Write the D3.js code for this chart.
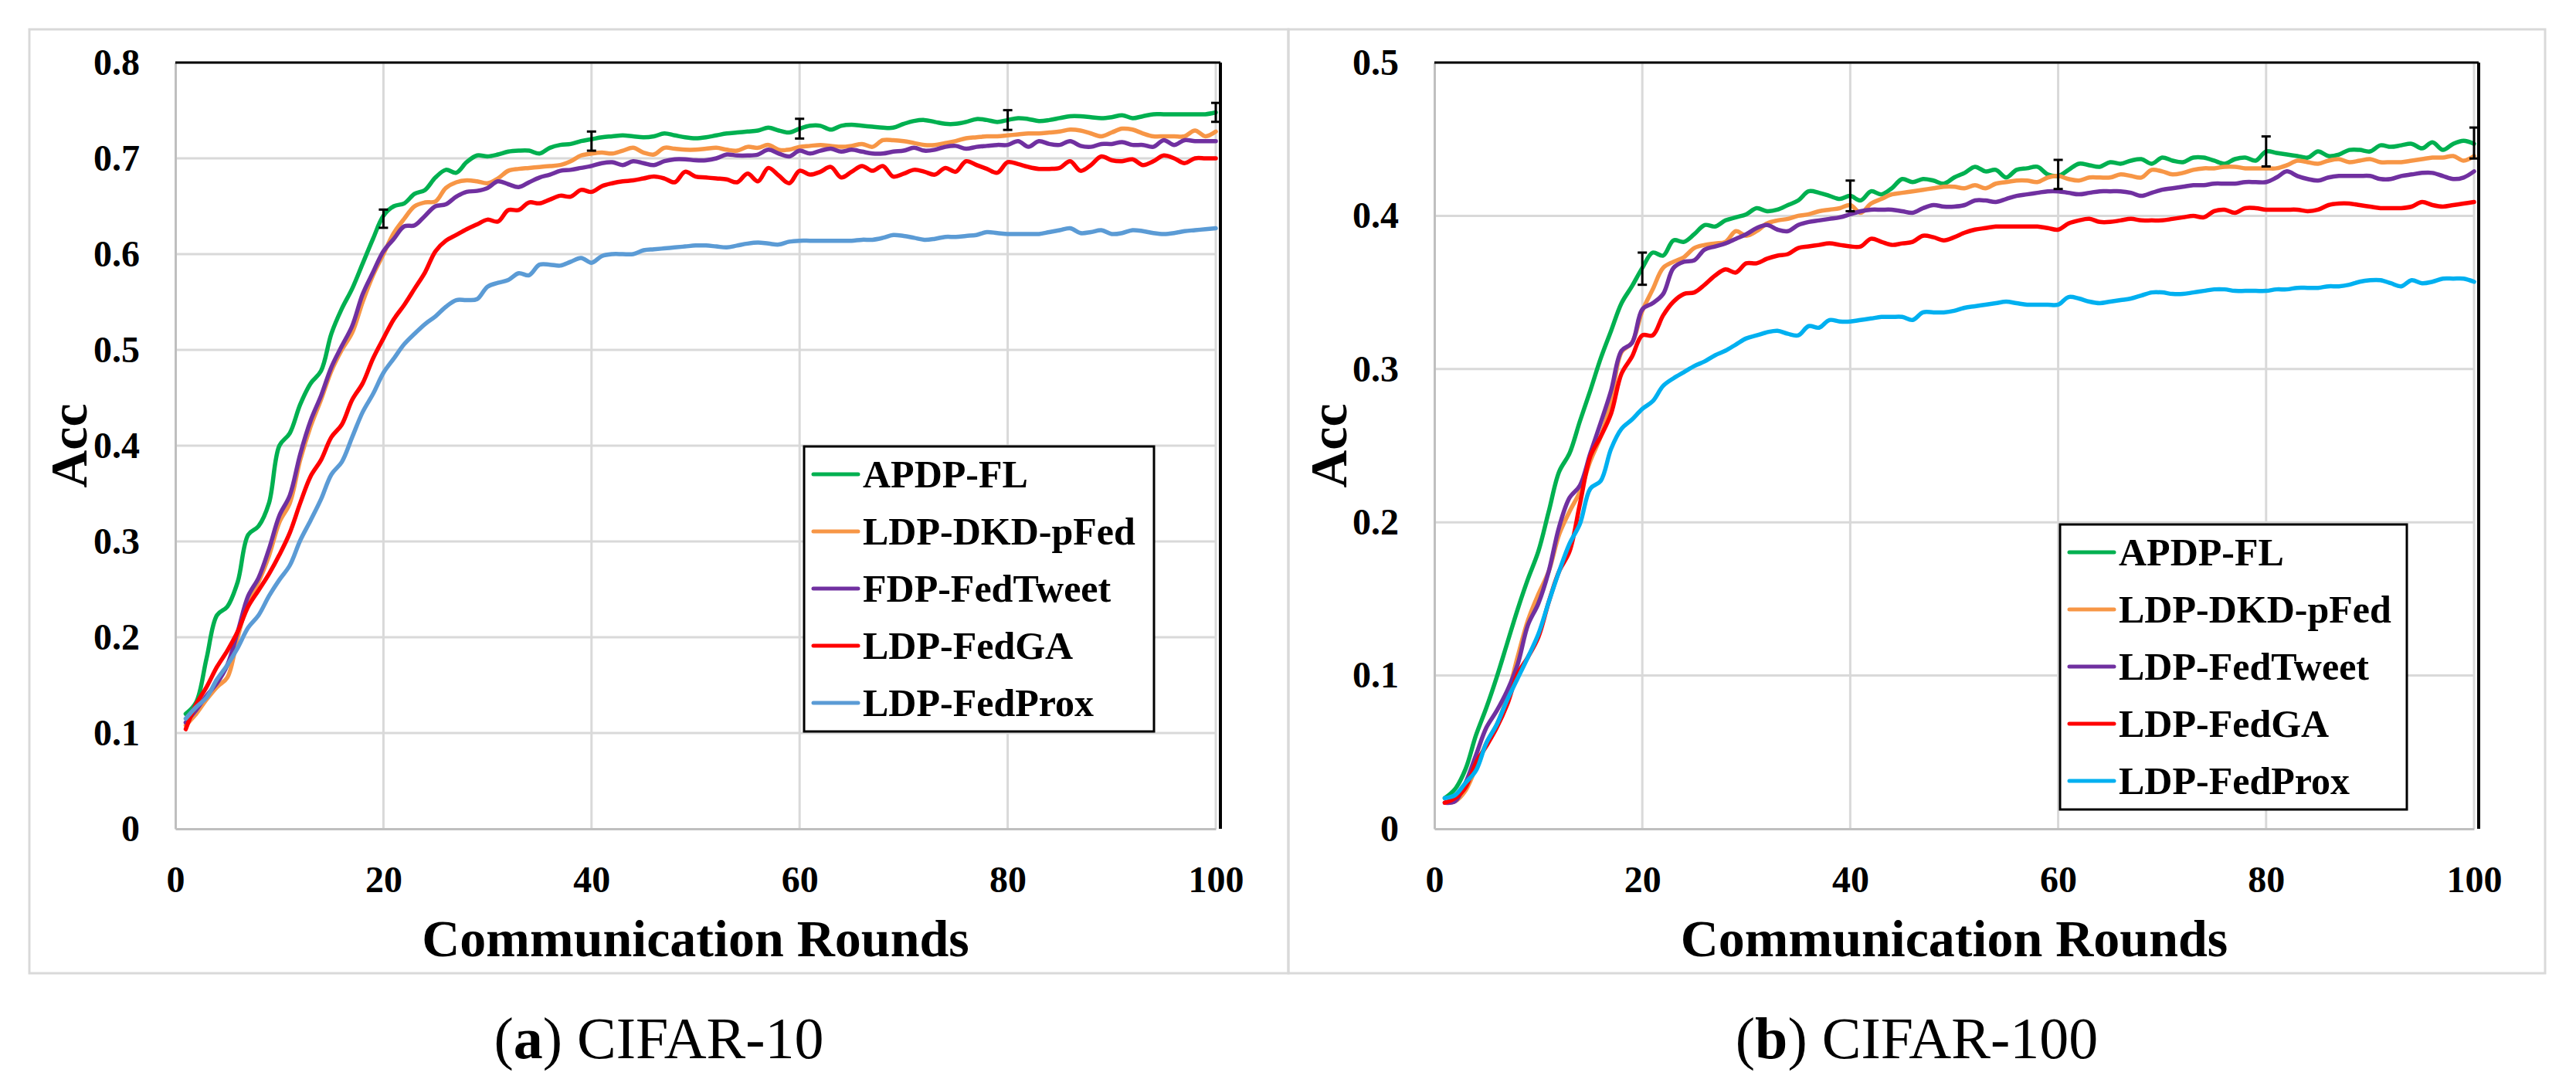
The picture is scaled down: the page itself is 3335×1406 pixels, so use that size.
<!DOCTYPE html>
<html>
<head>
<meta charset="utf-8">
<script src="https://cdn.jsdelivr.net/npm/d3@7"></script>
<style>
  body { margin: 0; background: #fff; }
</style>
</head>
<body>
<div id="chart"></div>
<script>
// communication rounds (x categories)
const rounds = d3.range(1, 101);
const xTicks = [0, 20, 40, 60, 80, 100];
const yTicks10 = [0, 0.1, 0.2, 0.3, 0.4, 0.5, 0.6, 0.7, 0.8];
const yTicks100 = [0, 0.1, 0.2, 0.3, 0.4, 0.5];

const names10 = ["APDP-FL", "LDP-DKD-pFed", "FDP-FedTweet", "LDP-FedGA", "LDP-FedProx"];
const names100 = ["APDP-FL", "LDP-DKD-pFed", "LDP-FedTweet", "LDP-FedGA", "LDP-FedProx"];
const colors10 = ["#00B050", "#F79646", "#7030A0", "#FF0000", "#5B9BD5"];
const colors100 = ["#00B050", "#F79646", "#7030A0", "#FF0000", "#00B0F0"];

// CIFAR-10 accuracy per round
const c10Apdp = [0.120,0.132,0.178,0.223,0.232,0.258,0.307,0.316,0.340,0.400,
  0.413,0.443,0.465,0.478,0.517,0.543,0.564,0.590,0.616,0.640,
  0.650,0.653,0.663,0.667,0.680,0.688,0.685,0.696,0.703,0.702,
  0.704,0.707,0.708,0.708,0.705,0.711,0.714,0.715,0.718,0.720,
  0.722,0.723,0.724,0.723,0.722,0.723,0.726,0.724,0.722,0.721,
  0.722,0.724,0.726,0.727,0.728,0.729,0.732,0.729,0.727,0.731,
  0.734,0.734,0.730,0.734,0.735,0.734,0.733,0.732,0.732,0.736,
  0.739,0.740,0.738,0.736,0.736,0.738,0.741,0.740,0.738,0.740,
  0.742,0.741,0.739,0.740,0.742,0.744,0.744,0.743,0.742,0.743,
  0.745,0.742,0.744,0.746,0.746,0.746,0.746,0.746,0.746,0.748];
const c10Dkd = [0.108,0.120,0.135,0.148,0.158,0.200,0.238,0.258,0.285,0.320,
  0.340,0.385,0.420,0.448,0.478,0.500,0.518,0.550,0.578,0.600,
  0.622,0.637,0.650,0.654,0.655,0.669,0.675,0.677,0.676,0.674,
  0.679,0.687,0.689,0.690,0.691,0.692,0.693,0.697,0.703,0.705,
  0.706,0.705,0.708,0.711,0.706,0.704,0.711,0.710,0.709,0.709,
  0.710,0.711,0.709,0.708,0.712,0.711,0.714,0.709,0.709,0.712,
  0.713,0.714,0.713,0.712,0.713,0.715,0.712,0.719,0.719,0.718,
  0.716,0.714,0.714,0.716,0.718,0.721,0.722,0.723,0.723,0.724,
  0.725,0.726,0.726,0.727,0.728,0.730,0.729,0.726,0.723,0.727,
  0.731,0.730,0.726,0.723,0.723,0.723,0.723,0.729,0.723,0.728];
const c10Tweet = [0.111,0.124,0.139,0.152,0.171,0.206,0.243,0.262,0.292,0.327,
  0.348,0.391,0.426,0.452,0.482,0.504,0.525,0.558,0.581,0.603,
  0.616,0.629,0.630,0.640,0.650,0.652,0.660,0.665,0.666,0.669,
  0.676,0.673,0.670,0.675,0.680,0.683,0.687,0.688,0.690,0.692,
  0.695,0.696,0.693,0.697,0.695,0.693,0.697,0.699,0.699,0.698,
  0.698,0.700,0.704,0.703,0.703,0.704,0.709,0.705,0.702,0.708,
  0.705,0.708,0.710,0.707,0.709,0.707,0.705,0.705,0.707,0.708,
  0.711,0.708,0.709,0.712,0.713,0.710,0.712,0.713,0.714,0.714,
  0.718,0.712,0.718,0.715,0.714,0.718,0.713,0.712,0.715,0.715,
  0.717,0.714,0.714,0.712,0.719,0.714,0.719,0.718,0.718,0.718];
const c10Ga = [0.104,0.130,0.148,0.169,0.186,0.206,0.232,0.249,0.266,0.286,
  0.309,0.340,0.368,0.385,0.409,0.422,0.448,0.465,0.491,0.512,
  0.532,0.547,0.564,0.581,0.603,0.614,0.620,0.626,0.631,0.636,
  0.634,0.646,0.646,0.654,0.653,0.657,0.661,0.660,0.667,0.665,
  0.671,0.674,0.676,0.677,0.679,0.681,0.679,0.675,0.686,0.681,
  0.680,0.679,0.678,0.675,0.684,0.676,0.690,0.682,0.674,0.687,
  0.683,0.686,0.691,0.680,0.686,0.692,0.687,0.692,0.681,0.684,
  0.688,0.686,0.683,0.690,0.686,0.697,0.693,0.689,0.685,0.696,
  0.694,0.691,0.689,0.689,0.690,0.697,0.687,0.693,0.702,0.698,
  0.697,0.699,0.693,0.697,0.703,0.700,0.695,0.700,0.700,0.700];
const c10Prox = [0.115,0.127,0.137,0.156,0.171,0.189,0.210,0.223,0.243,0.260,
  0.275,0.301,0.322,0.344,0.370,0.383,0.409,0.435,0.454,0.476,
  0.491,0.506,0.517,0.527,0.535,0.545,0.552,0.552,0.553,0.566,
  0.570,0.573,0.580,0.578,0.589,0.589,0.588,0.592,0.596,0.591,
  0.598,0.600,0.600,0.600,0.604,0.605,0.606,0.607,0.608,0.609,
  0.609,0.608,0.607,0.609,0.611,0.612,0.611,0.610,0.613,0.614,
  0.614,0.614,0.614,0.614,0.614,0.615,0.615,0.617,0.620,0.619,
  0.617,0.615,0.616,0.618,0.618,0.619,0.620,0.623,0.622,0.621,
  0.621,0.621,0.621,0.623,0.625,0.627,0.622,0.623,0.625,0.621,
  0.622,0.625,0.624,0.622,0.621,0.622,0.624,0.625,0.626,0.627];

// CIFAR-100 accuracy per round
const c100Apdp = [0.020,0.026,0.039,0.061,0.079,0.099,0.121,0.143,0.163,0.181,
  0.207,0.233,0.245,0.266,0.286,0.307,0.325,0.343,0.354,0.366,
  0.376,0.374,0.384,0.383,0.388,0.394,0.393,0.397,0.399,0.401,
  0.405,0.403,0.404,0.407,0.410,0.416,0.415,0.413,0.411,0.413,
  0.410,0.416,0.414,0.418,0.424,0.422,0.424,0.423,0.421,0.425,
  0.428,0.432,0.429,0.430,0.425,0.430,0.431,0.432,0.427,0.426,
  0.430,0.434,0.433,0.432,0.435,0.434,0.436,0.437,0.434,0.438,
  0.436,0.435,0.438,0.438,0.436,0.434,0.437,0.438,0.436,0.442,
  0.441,0.440,0.439,0.438,0.442,0.439,0.440,0.443,0.443,0.442,
  0.446,0.445,0.446,0.447,0.444,0.448,0.443,0.447,0.449,0.447];
const c100Dkd = [0.017,0.018,0.025,0.040,0.056,0.068,0.086,0.112,0.136,0.153,
  0.168,0.192,0.207,0.220,0.240,0.256,0.279,0.311,0.317,0.338,
  0.352,0.366,0.370,0.373,0.379,0.381,0.382,0.383,0.390,0.387,
  0.390,0.395,0.397,0.398,0.400,0.401,0.403,0.404,0.405,0.407,
  0.402,0.408,0.411,0.414,0.415,0.416,0.417,0.418,0.419,0.419,
  0.418,0.420,0.418,0.421,0.422,0.423,0.423,0.422,0.425,0.426,
  0.424,0.423,0.425,0.425,0.425,0.427,0.426,0.425,0.430,0.429,
  0.427,0.428,0.430,0.431,0.431,0.432,0.432,0.431,0.431,0.431,
  0.431,0.433,0.436,0.435,0.434,0.436,0.437,0.435,0.436,0.437,
  0.435,0.435,0.435,0.436,0.437,0.438,0.438,0.439,0.436,0.439];
const c100Tweet = [0.017,0.018,0.030,0.048,0.066,0.077,0.090,0.107,0.133,0.147,
  0.168,0.197,0.216,0.224,0.245,0.265,0.286,0.312,0.317,0.339,
  0.343,0.349,0.366,0.370,0.371,0.378,0.380,0.382,0.385,0.388,
  0.392,0.394,0.391,0.390,0.394,0.396,0.397,0.398,0.399,0.401,
  0.403,0.404,0.404,0.404,0.403,0.402,0.405,0.407,0.406,0.406,
  0.407,0.410,0.410,0.409,0.411,0.413,0.414,0.415,0.416,0.416,
  0.415,0.414,0.415,0.416,0.416,0.416,0.415,0.413,0.415,0.417,
  0.418,0.419,0.420,0.420,0.421,0.421,0.421,0.422,0.422,0.422,
  0.425,0.429,0.426,0.424,0.423,0.425,0.426,0.426,0.426,0.426,
  0.424,0.424,0.426,0.427,0.428,0.428,0.426,0.424,0.425,0.429];
const c100Ga = [0.017,0.020,0.027,0.043,0.054,0.066,0.081,0.101,0.112,0.125,
  0.148,0.168,0.181,0.212,0.243,0.256,0.271,0.297,0.308,0.322,
  0.322,0.335,0.344,0.349,0.350,0.355,0.361,0.365,0.363,0.369,
  0.369,0.372,0.374,0.375,0.379,0.380,0.381,0.382,0.381,0.380,
  0.380,0.385,0.383,0.381,0.382,0.383,0.387,0.386,0.384,0.386,
  0.389,0.391,0.392,0.393,0.393,0.393,0.393,0.393,0.392,0.391,
  0.395,0.397,0.398,0.396,0.396,0.397,0.398,0.397,0.397,0.397,
  0.398,0.399,0.400,0.399,0.403,0.404,0.402,0.405,0.405,0.404,
  0.404,0.404,0.404,0.403,0.404,0.407,0.408,0.408,0.407,0.406,
  0.405,0.405,0.405,0.406,0.409,0.407,0.406,0.407,0.408,0.409];
const c100Prox = [0.020,0.022,0.030,0.038,0.056,0.068,0.084,0.098,0.112,0.127,
  0.148,0.168,0.186,0.199,0.222,0.227,0.248,0.261,0.267,0.274,
  0.279,0.289,0.294,0.298,0.302,0.305,0.309,0.312,0.316,0.320,
  0.322,0.324,0.325,0.323,0.322,0.328,0.327,0.332,0.331,0.331,
  0.332,0.333,0.334,0.334,0.334,0.332,0.337,0.337,0.337,0.338,
  0.340,0.341,0.342,0.343,0.344,0.343,0.342,0.342,0.342,0.342,
  0.347,0.346,0.344,0.343,0.344,0.345,0.346,0.348,0.350,0.350,
  0.349,0.349,0.350,0.351,0.352,0.352,0.351,0.351,0.351,0.351,
  0.352,0.352,0.353,0.353,0.353,0.354,0.354,0.355,0.357,0.358,
  0.358,0.356,0.354,0.358,0.356,0.357,0.359,0.359,0.359,0.357];

// error bars on APDP-FL
const errRounds = [20, 40, 60, 80, 100];
const errMean10 = [0.637, 0.718, 0.731, 0.740, 0.748];
const errHalf10 = [0.0095, 0.010, 0.0103, 0.0103, 0.0099];
const errMean100 = [0.3655, 0.413, 0.427, 0.442, 0.4475];
const errHalf100 = [0.0105, 0.010, 0.0095, 0.0098, 0.0101];

const W = 3335, H = 1406;
const FONT = "'Liberation Serif', 'Times New Roman', serif";

const svg = d3.select("#chart").append("svg")
  .attr("xmlns", "http://www.w3.org/2000/svg")
  .attr("width", W)
  .attr("height", H);

svg.append("rect").attr("width", W).attr("height", H).attr("fill", "white");

const panels = [
  {
    frameX: 38, frameW: 1630, left: 227, right: 1574, top: 81, bottom: 1073,
    yMax: 0.8, yTicks: yTicks10, names: names10, colors: colors10,
    series: [c10Apdp, c10Dkd, c10Tweet, c10Ga, c10Prox],
    errMean: errMean10, errHalf: errHalf10,
    legend: { x: 1041, y: 578, w: 453, h: 369 },
    accX: 112, capLetter: "a", capText: " CIFAR-10"
  },
  {
    frameX: 1668, frameW: 1627, left: 1857, right: 3203, top: 81, bottom: 1073,
    yMax: 0.5, yTicks: yTicks100, names: names100, colors: colors100,
    series: [c100Apdp, c100Dkd, c100Tweet, c100Ga, c100Prox],
    errMean: errMean100, errHalf: errHalf100,
    legend: { x: 2667, y: 679, w: 449, h: 369 },
    accX: 1743, capLetter: "b", capText: " CIFAR-100"
  }
];

panels.forEach(drawPanel);

function drawPanel(p) {
  const g = svg.append("g");
  const x = d3.scaleLinear().domain([0, 100]).range([p.left, p.right]);
  const y = d3.scaleLinear().domain([0, p.yMax]).range([p.bottom, p.top]);

  // outer frame of the panel
  g.append("rect")
    .attr("x", p.frameX).attr("y", 38)
    .attr("width", p.frameW).attr("height", 1222)
    .attr("fill", "none").attr("stroke", "#D9D9D9").attr("stroke-width", 3);

  // gridlines
  g.selectAll(".hgrid").data(p.yTicks.slice(1)).join("line")
    .attr("x1", x(0)).attr("x2", x(100))
    .attr("y1", d => y(d)).attr("y2", d => y(d))
    .attr("stroke", "#D9D9D9").attr("stroke-width", 3);
  g.selectAll(".vgrid").data(xTicks.slice(1)).join("line")
    .attr("x1", d => x(d)).attr("x2", d => x(d))
    .attr("y1", y(0)).attr("y2", y(p.yMax))
    .attr("stroke", "#D9D9D9").attr("stroke-width", 3);

  // axes
  const yAxis = g.append("g")
    .attr("transform", `translate(${x(0)},0)`)
    .call(d3.axisLeft(y).tickValues(p.yTicks)
      .tickFormat(d => d === 0 ? "0" : d3.format(".1f")(d))
      .tickSize(0).tickPadding(46));
  const xAxis = g.append("g")
    .attr("transform", `translate(0,${y(0)})`)
    .call(d3.axisBottom(x).tickValues(xTicks).tickSize(0).tickPadding(48));
  [yAxis, xAxis].forEach(a => {
    a.select(".domain").attr("stroke", "#BFBFBF").attr("stroke-width", 3);
    a.selectAll("text")
      .attr("font-family", FONT).attr("font-weight", "bold")
      .attr("font-size", 48).attr("fill", "#000");
  });

  // black top and right border of the plot
  g.append("line")
    .attr("x1", x(0)).attr("x2", x(100) + 6)
    .attr("y1", y(p.yMax)).attr("y2", y(p.yMax))
    .attr("stroke", "#000").attr("stroke-width", 3);
  g.append("line")
    .attr("x1", x(100) + 6).attr("x2", x(100) + 6)
    .attr("y1", y(p.yMax)).attr("y2", y(0))
    .attr("stroke", "#000").attr("stroke-width", 4);

  // series lines
  const line = d3.line()
    .x((d, i) => x(rounds[i]))
    .y(d => y(d))
    .curve(d3.curveCatmullRom.alpha(0.5));
  p.series.forEach((s, k) => {
    g.append("path")
      .attr("d", line(s))
      .attr("fill", "none")
      .attr("stroke", p.colors[k])
      .attr("stroke-width", 5.5)
      .attr("stroke-linejoin", "round")
      .attr("stroke-linecap", "round");
  });

  // error bars
  const eb = g.selectAll(".err").data(errRounds).join("g");
  eb.append("line")
    .attr("x1", d => x(d)).attr("x2", d => x(d))
    .attr("y1", (d, i) => y(p.errMean[i] - p.errHalf[i]))
    .attr("y2", (d, i) => y(p.errMean[i] + p.errHalf[i]))
    .attr("stroke", "#000").attr("stroke-width", 3);
  [-1, 1].forEach(sgn => {
    eb.append("line")
      .attr("x1", d => x(d) - 6).attr("x2", d => x(d) + 6)
      .attr("y1", (d, i) => y(p.errMean[i] + sgn * p.errHalf[i]))
      .attr("y2", (d, i) => y(p.errMean[i] + sgn * p.errHalf[i]))
      .attr("stroke", "#000").attr("stroke-width", 3);
  });

  // axis titles
  g.append("text")
    .attr("x", (x(0) + x(100)) / 2).attr("y", 1238)
    .attr("text-anchor", "middle")
    .attr("font-family", FONT).attr("font-weight", "bold").attr("font-size", 68)
    .text("Communication Rounds");
  g.append("text")
    .attr("transform", `translate(${p.accX},${(y(0) + y(p.yMax)) / 2}) rotate(-90)`)
    .attr("text-anchor", "middle")
    .attr("font-family", FONT).attr("font-weight", "bold").attr("font-size", 68)
    .text("Acc");

  // legend
  const L = p.legend;
  const lg = g.append("g");
  lg.append("rect")
    .attr("x", L.x).attr("y", L.y).attr("width", L.w).attr("height", L.h)
    .attr("fill", "white").attr("stroke", "#000").attr("stroke-width", 3);
  const rows = lg.selectAll(".row").data(p.names).join("g")
    .attr("transform", (d, i) => `translate(${L.x},${L.y + 36 + i * 74})`);
  rows.append("line")
    .attr("x1", 12).attr("x2", 70).attr("y1", 0).attr("y2", 0)
    .attr("stroke", (d, i) => p.colors[i])
    .attr("stroke-width", 5).attr("stroke-linecap", "round");
  rows.append("text")
    .attr("x", 76).attr("y", 17)
    .attr("font-family", FONT).attr("font-weight", "bold").attr("font-size", 50)
    .text(d => d);

  // caption
  const cap = svg.append("text")
    .attr("x", p.frameX + p.frameW / 2).attr("y", 1370)
    .attr("text-anchor", "middle")
    .attr("font-family", FONT).attr("font-size", 76);
  cap.append("tspan").text("(");
  cap.append("tspan").attr("font-weight", "bold").text(p.capLetter);
  cap.append("tspan").text(")" + p.capText);
}
</script>
</body>
</html>
